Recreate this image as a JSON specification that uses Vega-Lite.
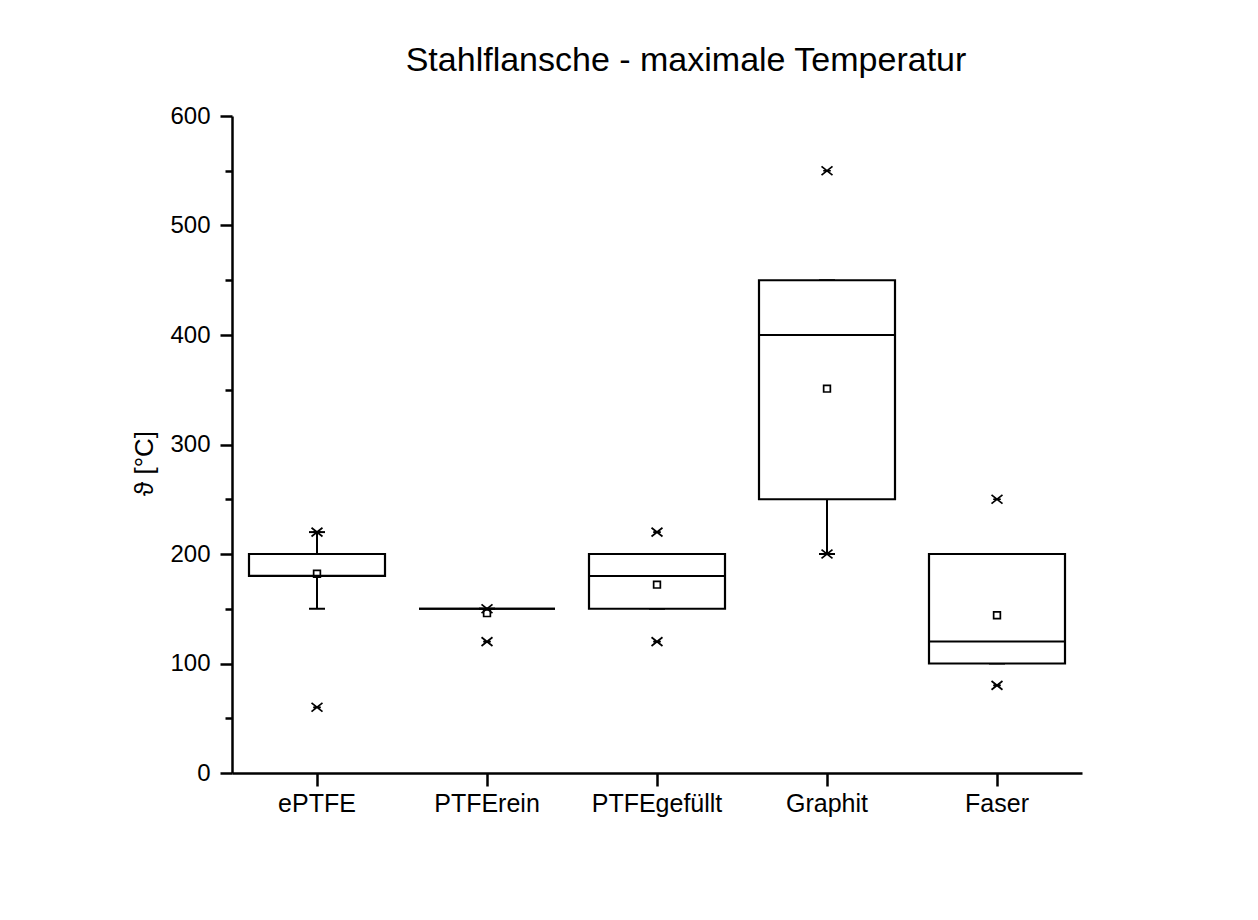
{
  "$schema": "https://vega.github.io/schema/vega-lite/v6.json",
  "autosize": {"type": "none"},
  "width": 850,
  "height": 657,
  "padding": {"left": 232, "top": 116, "right": 176, "bottom": 147},
  "background": "white",
  "title": {
    "text": "Stahlflansche - maximale Temperatur",
    "font": "Liberation Sans",
    "fontSize": 34,
    "fontWeight": "normal",
    "color": "#000",
    "anchor": "middle",
    "dx": 29,
    "offset": 26
  },
  "config": {
    "view": {"stroke": null},
    "axis": {
      "labelFont": "Liberation Sans",
      "labelColor": "#000",
      "titleFont": "Liberation Sans",
      "titleColor": "#000",
      "domainColor": "#000",
      "tickColor": "#000",
      "grid": false
    }
  },
  "data": {
    "values": [
      {"cat": "ePTFE", "q1": 180, "med": 180, "q3": 200, "wlow": 150, "whigh": 220, "mean": 182, "min": 60, "max": 220},
      {"cat": "PTFErein", "q1": 150, "med": 150, "q3": 150, "wlow": 150, "whigh": 150, "mean": 146, "min": 120, "max": 150},
      {"cat": "PTFEgefüllt", "q1": 150, "med": 180, "q3": 200, "wlow": 150, "whigh": 200, "mean": 172, "min": 120, "max": 220},
      {"cat": "Graphit", "q1": 250, "med": 400, "q3": 450, "wlow": 200, "whigh": 450, "mean": 351, "min": 200, "max": 550},
      {"cat": "Faser", "q1": 100, "med": 120, "q3": 200, "wlow": 100, "whigh": 200, "mean": 144, "min": 80, "max": 250}
    ]
  },
  "encoding": {
    "x": {
      "field": "cat",
      "type": "nominal",
      "sort": null,
      "scale": {"paddingInner": 0, "paddingOuter": 0},
      "axis": {
        "title": null,
        "labelAngle": 0,
        "labelFontSize": 25,
        "domainWidth": 2.5,
        "tickWidth": 2.5,
        "tickSize": 13,
        "labelPadding": 5
      }
    }
  },
  "layer": [
    {
      "mark": {"type": "rule", "stroke": "#000", "strokeWidth": 2},
      "encoding": {
        "y": {
          "field": "wlow",
          "type": "quantitative",
          "scale": {"domain": [0, 600], "nice": false},
          "axis": {
            "title": "ϑ [°C]",
            "titleFontSize": 26,
            "titleFontWeight": "normal",
            "titlePadding": 12,
            "titleY": 347,
            "labelFontSize": 24,
            "values": [0, 50, 100, 150, 200, 250, 300, 350, 400, 450, 500, 550, 600],
            "labelExpr": "datum.value % 100 === 0 ? datum.label : ''",
            "tickSize": {"condition": {"test": "datum.value % 100 === 0", "value": 12}, "value": 7},
            "tickWidth": 2.5,
            "domainWidth": 2.5,
            "labelPadding": 10
          }
        },
        "y2": {"field": "whigh"}
      }
    },
    {
      "mark": {"type": "tick", "color": "#000", "opacity": 1, "thickness": 2, "size": 16, "orient": "horizontal"},
      "encoding": {"y": {"field": "wlow", "type": "quantitative"}}
    },
    {
      "mark": {"type": "tick", "color": "#000", "opacity": 1, "thickness": 2, "size": 16, "orient": "horizontal"},
      "encoding": {"y": {"field": "whigh", "type": "quantitative"}}
    },
    {
      "mark": {"type": "bar", "fill": "white", "stroke": "#000", "strokeWidth": 2.2, "width": {"band": 0.8}},
      "encoding": {
        "y": {"field": "q1", "type": "quantitative"},
        "y2": {"field": "q3"}
      }
    },
    {
      "mark": {"type": "tick", "color": "#000", "opacity": 1, "thickness": 2, "size": 136, "orient": "horizontal"},
      "encoding": {"y": {"field": "med", "type": "quantitative"}}
    },
    {
      "mark": {"type": "point", "shape": "square", "filled": false, "size": 45, "stroke": "#000", "strokeWidth": 1.7, "opacity": 1},
      "encoding": {"y": {"field": "mean", "type": "quantitative"}}
    },
    {
      "mark": {"type": "point", "shape": "M-1,-0.8L1,0.8M-1,0.8L1,-0.8M-0.7,0L0.7,0", "filled": false, "size": 120, "stroke": "#000", "strokeWidth": 1.7, "opacity": 1},
      "encoding": {"y": {"field": "min", "type": "quantitative"}}
    },
    {
      "mark": {"type": "point", "shape": "M-1,-0.8L1,0.8M-1,0.8L1,-0.8M-0.7,0L0.7,0", "filled": false, "size": 120, "stroke": "#000", "strokeWidth": 1.7, "opacity": 1},
      "encoding": {"y": {"field": "max", "type": "quantitative"}}
    }
  ]
}
